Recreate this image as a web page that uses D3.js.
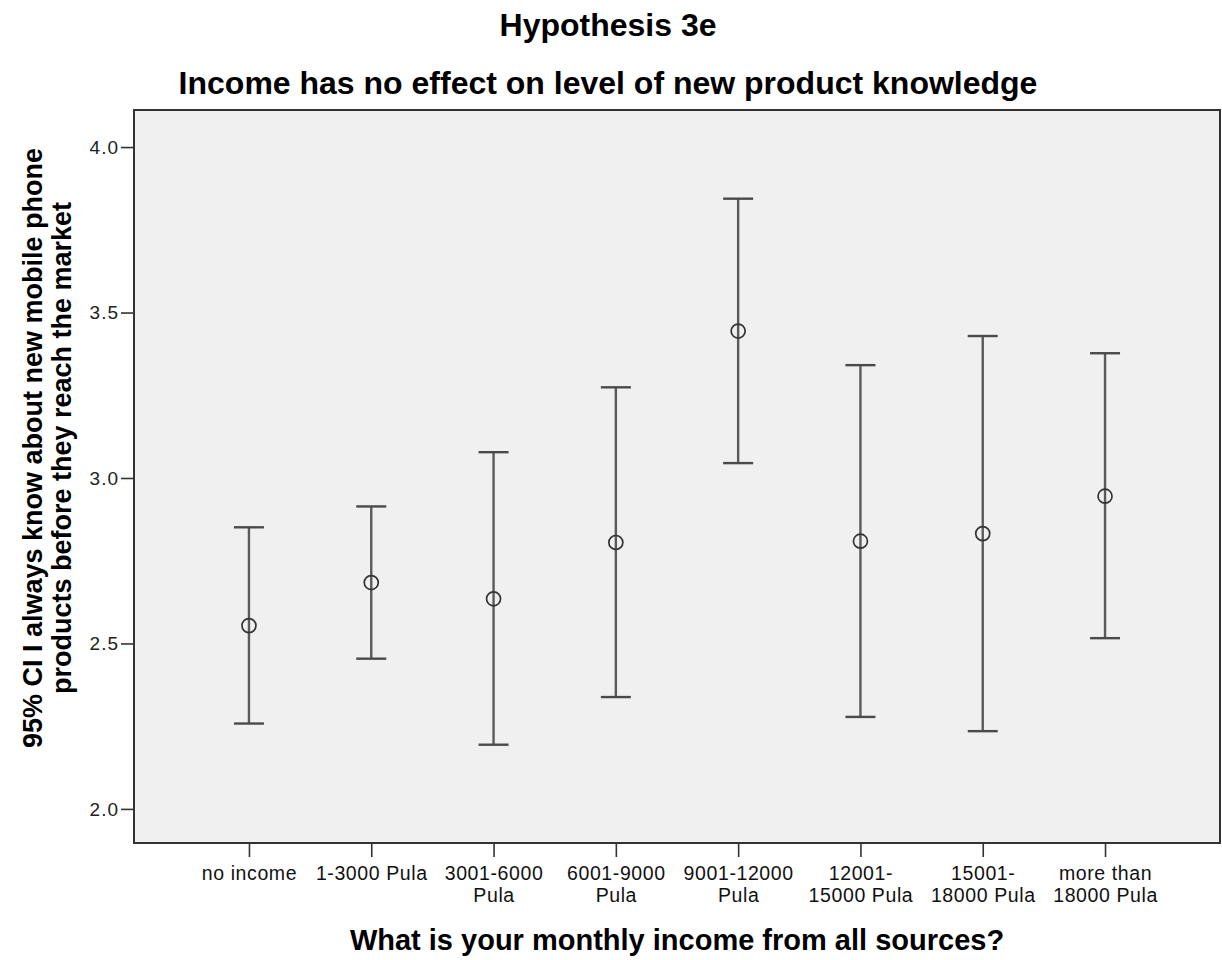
<!DOCTYPE html>
<html>
<head>
<meta charset="utf-8">
<script src="https://cdn.jsdelivr.net/npm/d3@7/dist/d3.min.js"></script>
<style>
  html, body { margin: 0; padding: 0; background: #ffffff; }
  svg { display: block; font-family: "Liberation Sans", Arial, sans-serif; }
</style>
</head>
<body>
<svg id="chart" width="1222" height="960"></svg>
<script>
// Income groups and 95% confidence intervals of the mean knowledge score
const categories = ["no income", "1-3000 Pula", "3001-6000 Pula", "6001-9000 Pula",
  "9001-12000 Pula", "12001-15000 Pula", "15001-18000 Pula", "more than 18000 Pula"];
const tickLabelLines = [["no income"], ["1-3000 Pula"], ["3001-6000", "Pula"], ["6001-9000", "Pula"],
  ["9001-12000", "Pula"], ["12001-", "15000 Pula"], ["15001-", "18000 Pula"], ["more than", "18000 Pula"]];
const means = [2.554, 2.684, 2.635, 2.805, 3.444, 2.809, 2.832, 2.945];
const lower = [2.258, 2.454, 2.194, 2.338, 3.045, 2.278, 2.235, 2.516];
const upper = [2.851, 2.914, 3.078, 3.274, 3.844, 3.341, 3.429, 3.377];
const yTicks = [2.0, 2.5, 3.0, 3.5, 4.0];

const rows = categories.map((c, i) => ({ c, mean: means[i], lo: lower[i], hi: upper[i] }));

const svg = d3.select("#chart");
const plot = { left: 134, top: 110, right: 1220, bottom: 843 };

const x = d3.scalePoint().domain(categories).range([plot.left, plot.right]).padding(0.94);
const y = d3.scaleLinear().domain([1.897, 4.112]).range([plot.bottom, plot.top]);

// titles
svg.append("text").attr("x", 608).attr("y", 36).attr("text-anchor", "middle")
  .attr("font-size", 32).attr("font-weight", "bold").attr("fill", "#000").text("Hypothesis 3e");
svg.append("text").attr("x", 608).attr("y", 94).attr("text-anchor", "middle")
  .attr("font-size", 32).attr("font-weight", "bold").attr("fill", "#000")
  .text("Income has no effect on level of new product knowledge");

// plot panel
svg.append("rect")
  .attr("x", plot.left).attr("y", plot.top)
  .attr("width", plot.right - plot.left).attr("height", plot.bottom - plot.top)
  .attr("fill", "#f0f0f0").attr("stroke", "#333").attr("stroke-width", 2);

// y axis
const yAxis = svg.append("g").attr("transform", `translate(${plot.left},0)`)
  .call(d3.axisLeft(y).tickValues(yTicks).tickFormat(d3.format(".1f")).tickSize(13).tickPadding(2));
yAxis.select(".domain").remove();
yAxis.selectAll(".tick line").attr("stroke", "#333").attr("stroke-width", 1.6);
yAxis.selectAll(".tick text").attr("font-size", 19).attr("fill", "#222")
  .attr("letter-spacing", 1)
  .attr("font-family", "\"Liberation Sans\", Arial, sans-serif");

// x axis: tick marks, then one text element per label line
const xAxis = svg.append("g").attr("transform", `translate(0,${plot.bottom})`)
  .call(d3.axisBottom(x).tickSize(14).tickFormat(""));
xAxis.select(".domain").remove();
xAxis.selectAll(".tick line").attr("stroke", "#333").attr("stroke-width", 1.6);
xAxis.selectAll(".tick").each(function (d, i) {
  const tick = d3.select(this);
  tickLabelLines[i].forEach((line, k) => {
    tick.append("text")
      .attr("text-anchor", "middle").attr("fill", "#111")
      .attr("font-size", 19.5).attr("letter-spacing", 0.6)
      .attr("x", 0).attr("y", 37 + k * 22).text(line);
  });
});

// axis titles
svg.append("text").attr("x", 677).attr("y", 950).attr("text-anchor", "middle")
  .attr("font-size", 29).attr("font-weight", "bold").attr("fill", "#000")
  .text("What is your monthly income from all sources?");
const yTitle = svg.append("text")
  .attr("transform", "translate(42,448) rotate(-90)")
  .attr("text-anchor", "middle").attr("font-size", 27).attr("font-weight", "bold").attr("fill", "#000");
yTitle.append("tspan").attr("x", 0).attr("y", 0).text("95% CI I always know about new mobile phone");
yTitle.append("tspan").attr("x", 0).attr("y", 29).text("products before they reach the market");

// error bars
const capHalf = 15;
const bars = svg.append("g").selectAll("g").data(rows).join("g");
bars.append("line")
  .attr("x1", d => x(d.c)).attr("x2", d => x(d.c))
  .attr("y1", d => y(d.lo)).attr("y2", d => y(d.hi))
  .attr("stroke", "#5a5a5a").attr("stroke-width", 2.4);
bars.append("line")
  .attr("x1", d => x(d.c) - capHalf).attr("x2", d => x(d.c) + capHalf)
  .attr("y1", d => y(d.hi)).attr("y2", d => y(d.hi))
  .attr("stroke", "#4a4a4a").attr("stroke-width", 2.4);
bars.append("line")
  .attr("x1", d => x(d.c) - capHalf).attr("x2", d => x(d.c) + capHalf)
  .attr("y1", d => y(d.lo)).attr("y2", d => y(d.lo))
  .attr("stroke", "#4a4a4a").attr("stroke-width", 2.4);
bars.append("circle")
  .attr("cx", d => x(d.c)).attr("cy", d => y(d.mean)).attr("r", 7)
  .attr("fill", "none").attr("stroke", "#333").attr("stroke-width", 1.7);
</script>
</body>
</html>
